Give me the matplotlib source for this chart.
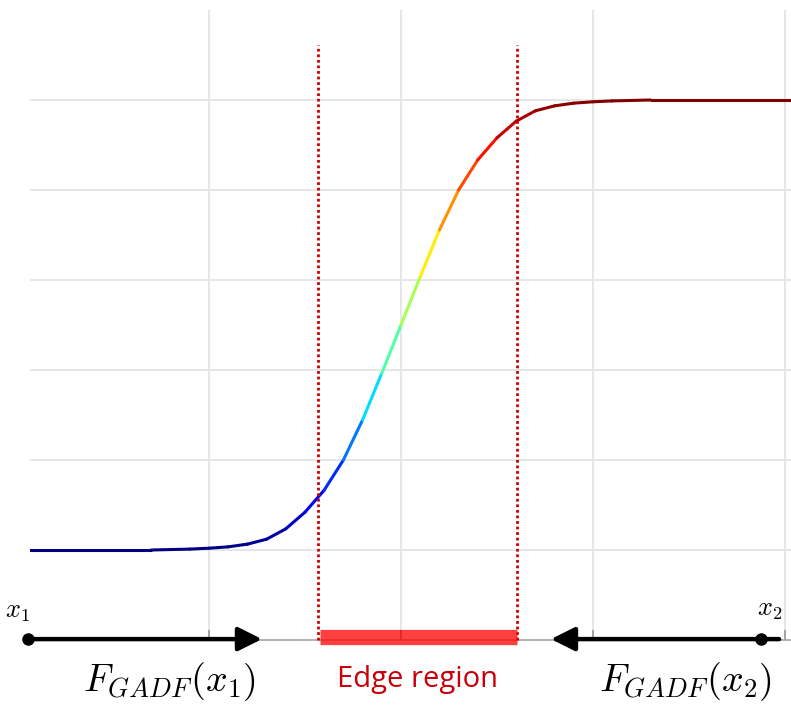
import numpy as np
import matplotlib
matplotlib.use("Agg")
import matplotlib.pyplot as plt
from matplotlib.collections import LineCollection

plt.rcParams["mathtext.fontset"] = "cm"

# Smooth step response sampled at integer positions
x_pos = np.arange(-20, 22)
y_vals = [0.0, 0.0, 0.0, 0.0, 0.0, 0.0, 0.0, 0.0, 0.001, 0.002,
          0.004, 0.007, 0.013, 0.024, 0.047, 0.084, 0.133, 0.200, 0.289, 0.393,
          0.500,
          0.607, 0.711, 0.800, 0.867, 0.916, 0.953, 0.976, 0.987, 0.993, 0.996,
          0.998, 0.999, 1.0, 1.0, 1.0, 1.0, 1.0, 1.0, 1.0, 1.0, 1.0]

# Edge region bounds and the two sample points
edge_lo, edge_hi = -4.32, 6.04
x1_pos, x2_pos = -19.43, 18.75
x1_arrow_tip, x2_arrow_tip = -7.24, 7.81
x2_line_end = 19.69
x_ticks = [-10, 0, 10, 20]
y_grid = [0.0, 0.2, 0.4, 0.6, 0.8, 1.0]

W, H = 791, 710
fig = plt.figure(figsize=(W / 100, H / 100), dpi=100)
ax = fig.add_axes([30 / W, 70 / H, 761 / W, 630 / H])
ax.set_xlim(-19.32, 20.31)
ax.set_ylim(-0.2, 1.2)

# grid
for gx in x_ticks:
    ax.axvline(gx, color="#e6e6e6", lw=1.4, zorder=0)
for gy in y_grid:
    ax.axhline(gy, color="#e6e6e6", lw=1.4, zorder=0)

for s in ["top", "left", "right"]:
    ax.spines[s].set_visible(False)
ax.spines["bottom"].set_color("#a6a6a6")
ax.spines["bottom"].set_linewidth(1.2)
ax.set_xticks(x_ticks)
ax.set_xticklabels([])
ax.set_yticks([])
ax.tick_params(axis="x", direction="in", length=7.5, width=1.2, color="#999999")

# colour-mapped curve, one colour per segment
pts = np.column_stack([x_pos, y_vals])
segs = np.stack([pts[:-1], pts[1:]], axis=1)
mid = (pts[:-1, 1] + pts[1:, 1]) / 2
lc = LineCollection(segs, cmap="jet", norm=plt.Normalize(0, 1), linewidths=2.2,
                    capstyle="round", joinstyle="round", zorder=3)
lc.set_array(mid)
ax.add_collection(lc)

# edge region markers
dot_style = dict(color="#cc0000", lw=2.0, linestyle=(0, (1.0, 1.0)), zorder=4, clip_on=False)
ax.plot([edge_lo, edge_lo], [-0.2, 1.122], **dot_style)
ax.plot([edge_hi, edge_hi], [-0.2, 1.122], **dot_style)
ax.plot([edge_lo + 0.1, edge_hi - 0.01], [-0.194, -0.194], color="red", alpha=0.75,
        lw=11, solid_capstyle="butt", zorder=5, clip_on=False)

# arrows
ya = -0.198
arrow_kw = dict(arrowstyle="-|>,head_length=0.4,head_width=0.2", color="black",
                lw=3.2, mutation_scale=36, shrinkA=0, shrinkB=0)
ax.annotate("", xy=(x1_arrow_tip, ya), xytext=(x1_pos, ya), arrowprops=arrow_kw,
            annotation_clip=False, zorder=6)
ax.annotate("", xy=(x2_arrow_tip, ya), xytext=(x2_line_end, ya), arrowprops=arrow_kw,
            annotation_clip=False, zorder=6)
ax.plot([x1_pos, x2_pos], [ya, ya], "o", color="black", ms=8, zorder=7, clip_on=False)

# labels
ax.text(-19.95, -0.136, r"$x_1$", fontsize=19, ha="center", va="center", clip_on=False)
ax.text(19.22, -0.131, r"$x_2$", fontsize=19, ha="center", va="center", clip_on=False)
ax.text(-12.08, -0.293, r"$F_{GADF}(x_1)$", fontsize=27.5, ha="center", va="center", clip_on=False)
ax.text(14.79, -0.293, r"$F_{GADF}(x_2)$", fontsize=27.5, ha="center", va="center", clip_on=False)
ax.text(0.885, -0.287, "Edge region", fontsize=21, color="#c8000a", family="Open Sans",
        ha="center", va="center", clip_on=False)

fig.savefig("out.png", dpi=100)
